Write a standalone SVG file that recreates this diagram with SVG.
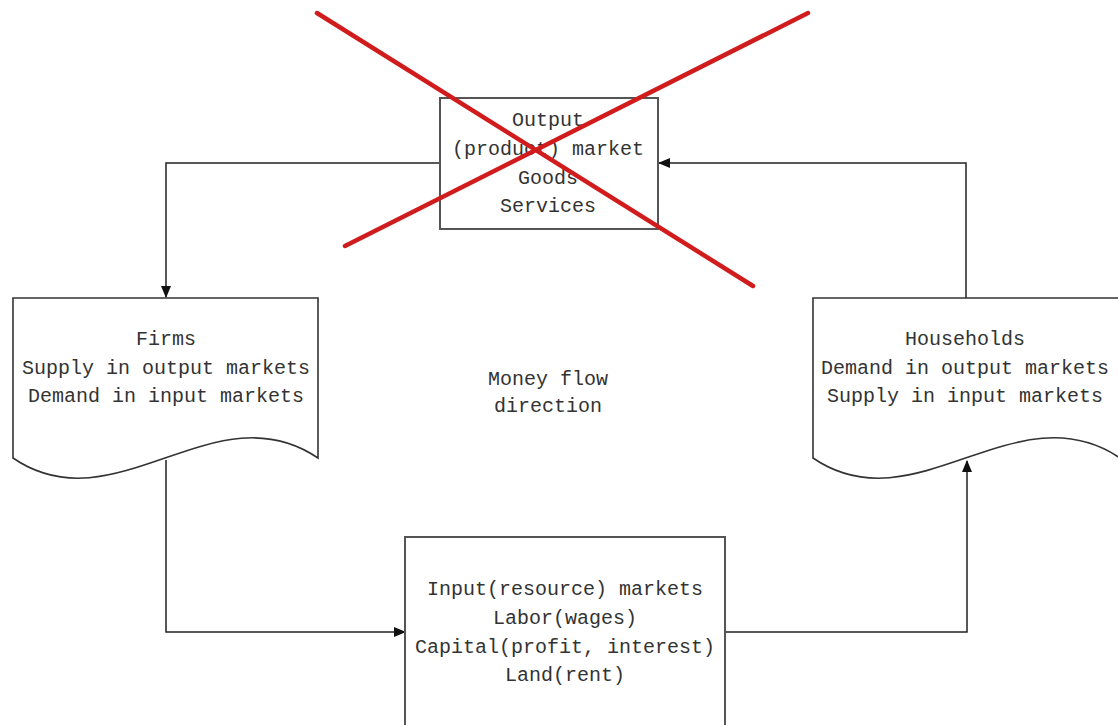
<svg xmlns="http://www.w3.org/2000/svg" width="1118" height="725" viewBox="0 0 1118 725">
<defs>
<marker id="arr" markerWidth="12" markerHeight="10" refX="11" refY="5" orient="auto" markerUnits="userSpaceOnUse">
<path d="M0,0 L12,5 L0,10 Z" fill="#111"/>
</marker>
</defs>
<style>
.box{fill:#fff;stroke:#555;stroke-width:2}
.doc{fill:#fff;stroke:#333;stroke-width:1.6}
.conn{fill:none;stroke:#222;stroke-width:1.5}
.t{font-family:"Liberation Mono","Noto Sans CJK SC",monospace;font-size:20px;fill:#333;text-anchor:middle}
.x{stroke:#d01c1c;stroke-width:4.5;stroke-linecap:round}
</style>
<rect width="1118" height="725" fill="#fff"/>
<g id="connectors">
<path class="conn" d="M440,163 H166 V297" marker-end="url(#arr)"/>
<path class="conn" d="M166,460 V632 H405" marker-end="url(#arr)"/>
<path class="conn" d="M725,632 H967 V461" marker-end="url(#arr)"/>
<path class="conn" d="M966,298 V163 H659" marker-end="url(#arr)"/>
</g>
<g id="output-market">
<rect class="box" x="440" y="98" width="218" height="131"/>
<text class="t" x="548" y="126">Output</text>
<text class="t" x="548" y="155">(product) market</text>
<text class="t" x="548" y="184">Goods</text>
<text class="t" x="548" y="212">Services</text>
</g>
<g id="firms">
<path class="doc" d="M13,298 H318 V458 C215,388 115,528 13,458 Z"/>
<text class="t" x="166" y="345">Firms</text>
<text class="t" x="166" y="374">Supply in output markets</text>
<text class="t" x="166" y="402">Demand in input markets</text>
</g>
<g id="households">
<path class="doc" d="M813,298 H1120 V458 C1016,388 915,528 813,458 Z"/>
<text class="t" x="965" y="345">Households</text>
<text class="t" x="965" y="374">Demand in output markets</text>
<text class="t" x="965" y="402">Supply in input markets</text>
</g>
<g id="money-flow">
<text class="t" x="548" y="385">Money flow</text>
<text class="t" x="548" y="412">direction</text>
</g>
<g id="input-market">
<rect class="box" x="405" y="537" width="320" height="210"/>
<text class="t" x="565" y="595">Input(resource) markets</text>
<text class="t" x="565" y="624">Labor(wages)</text>
<text class="t" x="565" y="653">Capital(profit, interest)</text>
<text class="t" x="565" y="681">Land(rent)</text>
</g>
<g id="cross">
<line class="x" x1="317" y1="13" x2="753" y2="286"/>
<line class="x" x1="808" y1="13" x2="345" y2="246"/>
</g>
</svg>
